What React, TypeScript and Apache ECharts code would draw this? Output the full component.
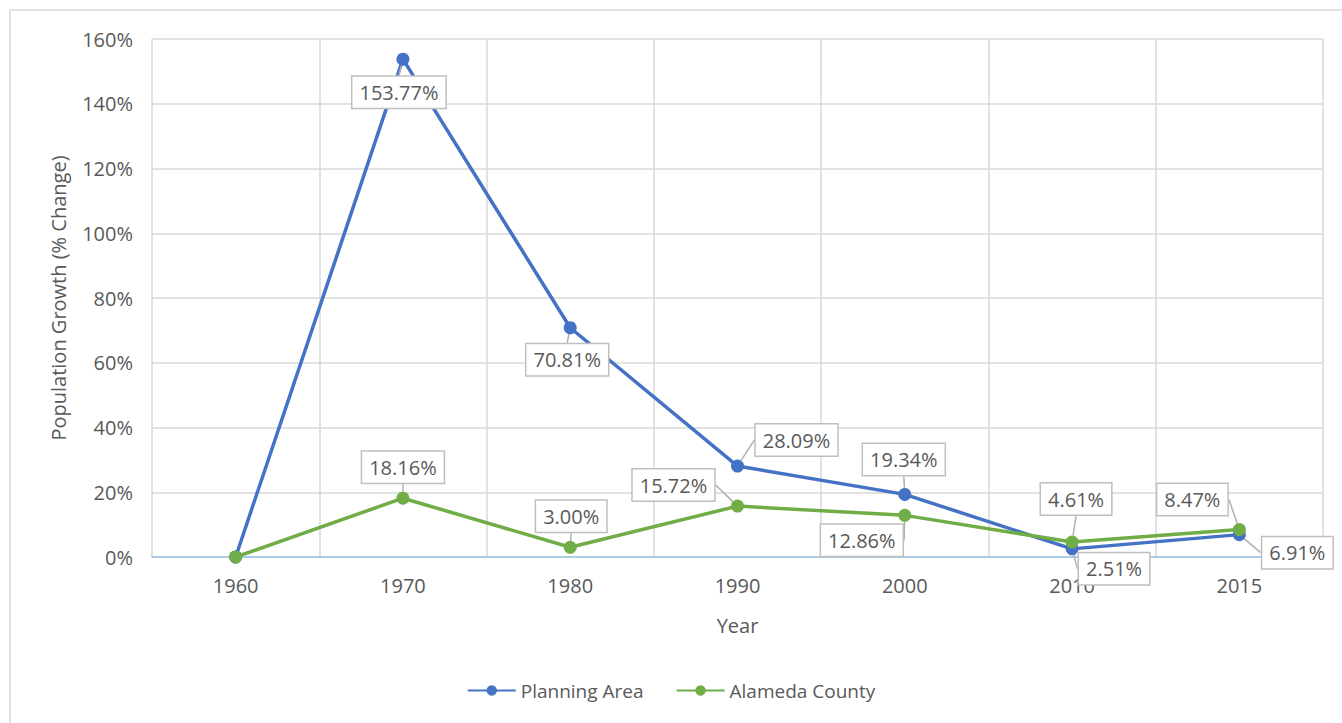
import React, { useEffect, useRef } from "react";
import * as echarts from "echarts";

const years = ["1960", "1970", "1980", "1990", "2000", "2010", "2015"];
const planningArea = [0, 153.77, 70.81, 28.09, 19.34, 2.51, 6.91];
const alamedaCounty = [0, 18.16, 3.0, 15.72, 12.86, 4.61, 8.47];
const yTicks = { min: 0, max: 160, interval: 20 };

// label callout offsets (style only)
const planningOffsets = [[0, 0], [-4, 33], [-3, 32], [59, -26], [-1, -35], [42, 20], [58, 18]];
const alamedaOffsets = [[0, 0], [0, -31], [1, -31], [-64, -21], [-43, 25], [4, -43], [-47, -30]];

const FONT = "'Open Sans', sans-serif";
const TEXT = "#595959";
const BLUE = "#4472C4";
const GREEN = "#70AD47";

export default function App() {
  const ref = useRef<HTMLDivElement>(null);
  useEffect(() => {
    if (!ref.current) return;
    const chart = echarts.init(ref.current, undefined, { renderer: "svg" });
    const labelCfg = {
      show: true,
      position: "inside",
      formatter: (p: any) => (p.value === 0 ? "" : p.value.toFixed(2) + "%"),
      color: TEXT,
      fontFamily: FONT,
      fontSize: 20,
      backgroundColor: "#ffffff",
      borderColor: "#bfbfbf",
      borderWidth: 1.5,
      padding: [6, 7, 5, 7],
    };
    const mkData = (vals: number[]) =>
      vals.map((v, i) => (i === 0 ? { value: v, label: { show: false } } : { value: v }));
    chart.setOption({
      animation: false,
      backgroundColor: "#ffffff",
      graphic: [
        {
          type: "rect",
          shape: { x: 10, y: 10, width: 1400, height: 800 },
          style: { fill: "none", stroke: "#e3e3e3", lineWidth: 2 },
          silent: true,
          z: -1,
        },
      ],
      grid: { left: 152, right: 19, top: 39, bottom: 166 },
      legend: {
        bottom: 18,
        left: "center",
        itemWidth: 48,
        itemHeight: 13,
        itemGap: 32,
        textStyle: { color: TEXT, fontFamily: FONT, fontSize: 19 },
        data: ["Planning Area", "Alameda County"],
      },
      xAxis: {
        type: "category",
        data: years,
        boundaryGap: true,
        name: "Year",
        nameLocation: "middle",
        nameGap: 58,
        nameTextStyle: { color: TEXT, fontFamily: FONT, fontSize: 20 },
        axisLine: { show: true, lineStyle: { color: "#9DC3E6", width: 1.5 } },
        axisTick: { show: false },
        axisLabel: { color: TEXT, fontFamily: FONT, fontSize: 20, margin: 18 },
        splitLine: { show: true, lineStyle: { color: "#d9d9d9", width: 1.5 } },
      },
      yAxis: {
        type: "value",
        min: yTicks.min,
        max: yTicks.max,
        interval: yTicks.interval,
        name: "Population Growth (% Change)",
        nameLocation: "middle",
        nameRotate: 90,
        nameGap: 84,
        nameTextStyle: { color: TEXT, fontFamily: FONT, fontSize: 20 },
        axisLine: { show: false },
        axisTick: { show: false },
        axisLabel: { color: TEXT, fontFamily: FONT, fontSize: 20, margin: 19, formatter: "{value}%" },
        splitLine: { show: true, lineStyle: { color: "#d9d9d9", width: 1.5 } },
      },
      series: [
        {
          name: "Planning Area",
          type: "line",
          data: mkData(planningArea),
          symbol: "circle",
          symbolSize: 13,
          itemStyle: { color: BLUE },
          lineStyle: { color: BLUE, width: 3.5 },
          label: labelCfg,
          labelLine: { show: true, lineStyle: { color: "#b0b0b0", width: 1.5 } },
          labelLayout: (p: any) => ({ dx: planningOffsets[p.dataIndex][0], dy: planningOffsets[p.dataIndex][1] }),
          z: 3,
        },
        {
          name: "Alameda County",
          type: "line",
          data: mkData(alamedaCounty),
          symbol: "circle",
          symbolSize: 13,
          itemStyle: { color: GREEN },
          lineStyle: { color: GREEN, width: 3.5 },
          label: labelCfg,
          labelLine: { show: true, lineStyle: { color: "#b0b0b0", width: 1.5 } },
          labelLayout: (p: any) => ({ dx: alamedaOffsets[p.dataIndex][0], dy: alamedaOffsets[p.dataIndex][1] }),
          z: 4,
        },
      ],
    });
    return () => chart.dispose();
  }, []);
  return (
    <div
      ref={ref}
      style={{ position: "absolute", left: 0, top: 0, width: 1342, height: 723 }}
    />
  );
}
